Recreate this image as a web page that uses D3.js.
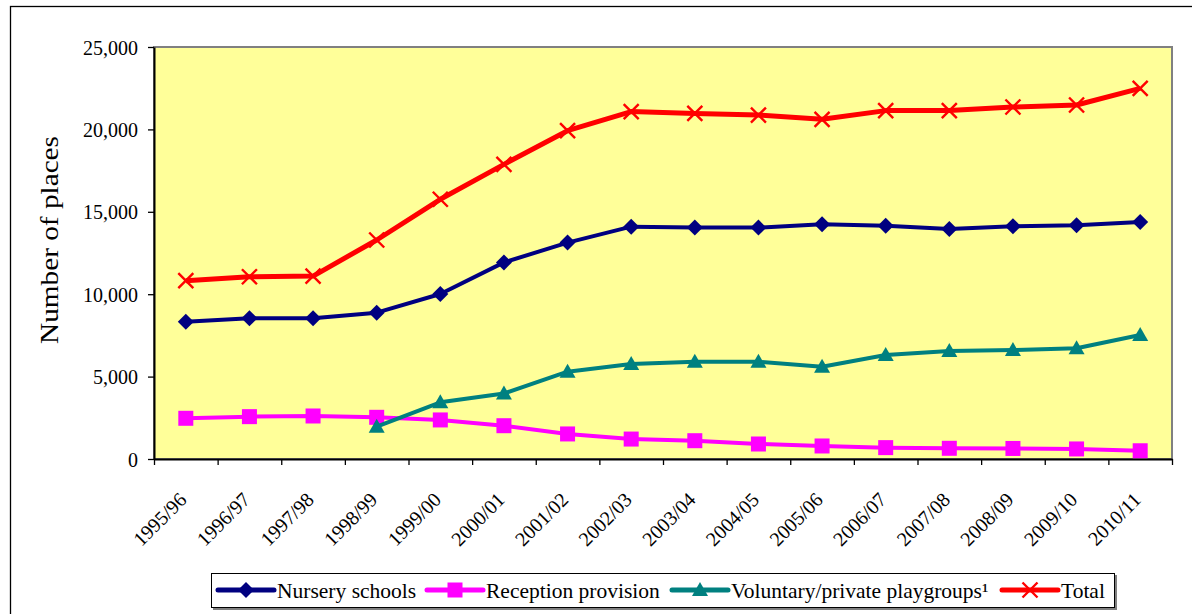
<!DOCTYPE html>
<html><head><meta charset="utf-8">
<script src="https://cdn.jsdelivr.net/npm/d3@7"></script>
<style>
html,body{margin:0;padding:0;background:#fff;}
svg{display:block;}
</style></head>
<body>
<svg id="chart" width="1192" height="614"></svg>
<script>
const categories = ["1995/96","1996/97","1997/98","1998/99","1999/00","2000/01","2001/02","2002/03","2003/04","2004/05","2005/06","2006/07","2007/08","2008/09","2009/10","2010/11"];
const nursery   = [8330, 8540, 8540, 8880, 10010, 11930, 13130, 14100, 14040, 14040, 14240, 14160, 13960, 14120, 14180, 14380];
const reception = [2470, 2570, 2610, 2530, 2370, 2020, 1520, 1210, 1110, 910, 790, 690, 650, 640, 610, 500];
const voluntary = [null, null, null, 1960, 3440, 3980, 5300, 5760, 5900, 5900, 5600, 6310, 6550, 6610, 6720, 7520];
const total     = [10820, 11060, 11100, 13290, 15760, 17880, 19920, 21080, 20970, 20870, 20610, 21140, 21140, 21360, 21480, 22490];
const yTicks = [0, 5000, 10000, 15000, 20000, 25000];
const seriesNames = ["Nursery schools", "Reception provision", "Voluntary/private playgroups\u00B9", "Total"];

const FONT = "'Liberation Serif'";
const series = [
  {name: seriesNames[0], values: nursery,   color: "#000080", width: 4, marker: "diamond"},
  {name: seriesNames[1], values: reception, color: "#FF00FF", width: 4, marker: "square"},
  {name: seriesNames[2], values: voluntary, color: "#008080", width: 4, marker: "triangle"},
  {name: seriesNames[3], values: total,     color: "#FF0000", width: 5, marker: "x"}
];

const svg = d3.select("#chart");
const L = 154, R = 1172, T = 47, B = 459;

// outer chart border
svg.append("rect").attr("x", 10.5).attr("y", 6.5).attr("width", 1200).attr("height", 620)
  .attr("fill", "#fff").attr("stroke", "#000").attr("stroke-width", 1.3);

const x = d3.scaleBand().domain(categories).range([L, R]).padding(0);
const xEdge = d3.scaleLinear().domain([0, categories.length]).range([L, R]);
const y = d3.scaleLinear().domain([0, 25000]).range([B, T]);
const cx = c => x(c) + x.bandwidth() / 2;

// plot area
svg.append("rect").attr("x", L).attr("y", T).attr("width", R - L).attr("height", B - T)
  .attr("fill", "#FFFF99").attr("stroke", "#808080").attr("stroke-width", 2);

// y axis
const yAxis = svg.append("g").attr("transform", `translate(${L},0)`)
  .call(d3.axisLeft(y).tickValues(yTicks).tickSize(6).tickSizeOuter(0)
    .tickFormat(d => d3.format(",")(d)));
yAxis.attr("font-family", null).attr("font-size", null);
yAxis.select(".domain").attr("stroke", "#000").attr("stroke-width", 2);
yAxis.selectAll(".tick line").attr("stroke", "#000").attr("stroke-width", 1.3);
yAxis.selectAll(".tick text").style("font-family", FONT).style("font-size", "20px")
  .attr("fill", "#000").attr("x", -16).attr("dy", "0.35em");

// x axis (ticks at band edges)
const xAxis = svg.append("g").attr("transform", `translate(0,${B})`)
  .call(d3.axisBottom(xEdge).tickValues(d3.range(categories.length + 1)).tickSize(6).tickSizeOuter(0).tickFormat(""));
xAxis.select(".domain").attr("stroke", "#000").attr("stroke-width", 2);
xAxis.selectAll(".tick line").attr("stroke", "#000").attr("stroke-width", 1.3);

svg.append("g").selectAll("text").data(categories).join("text")
  .attr("transform", d => `translate(${cx(d) + 2},${B + 42}) rotate(-45)`)
  .attr("text-anchor", "end")
  .style("font-family", FONT)
  .style("font-size", "20px")
  .attr("fill", "#000")
  .text(d => d);

// y title
svg.append("text").attr("transform", `translate(58,${(T + B) / 2 - 13}) rotate(-90)`)
  .attr("text-anchor", "middle").style("font-family", FONT).style("font-size", "25px").attr("fill", "#000")
  .attr("textLength", 208).attr("lengthAdjust", "spacingAndGlyphs")
  .text("Number of places");

// marker drawing
function drawMarker(g, type, color, px, py) {
  if (type === "diamond") {
    g.append("path").attr("d", `M${px},${py - 8}L${px + 8},${py}L${px},${py + 8}L${px - 8},${py}Z`)
      .attr("fill", color);
  } else if (type === "square") {
    g.append("rect").attr("x", px - 7.5).attr("y", py - 7.5).attr("width", 15).attr("height", 15)
      .attr("fill", color);
  } else if (type === "triangle") {
    g.append("path").attr("d", `M${px},${py - 8}L${px + 8},${py + 6}L${px - 8},${py + 6}Z`)
      .attr("fill", color);
  } else if (type === "x") {
    g.append("path").attr("d", `M${px - 7.5},${py - 7.5}L${px + 7.5},${py + 7.5}M${px + 7.5},${py - 7.5}L${px - 7.5},${py + 7.5}`)
      .attr("stroke", color).attr("stroke-width", 2.4).attr("fill", "none");
  }
}

const line = d3.line()
  .defined(d => d.v !== null)
  .x(d => cx(d.c))
  .y(d => y(d.v));

series.forEach(s => {
  const pts = categories.map((c, i) => ({c, v: s.values[i]}));
  const g = svg.append("g");
  g.append("path").datum(pts).attr("d", line)
    .attr("fill", "none").attr("stroke", s.color).attr("stroke-width", s.width)
    .attr("stroke-linejoin", "round");
  pts.filter(p => p.v !== null).forEach(p => drawMarker(g, s.marker, s.color, cx(p.c), y(p.v)));
});

// legend
const lg = svg.append("g");
lg.append("rect").attr("x", 213).attr("y", 575).attr("width", 904).attr("height", 35).attr("fill", "#808080");
lg.append("rect").attr("x", 211.5).attr("y", 573.5).attr("width", 903).attr("height", 34)
  .attr("fill", "#fff").attr("stroke", "#000").attr("stroke-width", 1);
const legendX = [218, 427, 672, 1002];
series.forEach((s, i) => {
  const x0 = legendX[i], ly = 590;
  lg.append("line").attr("x1", x0).attr("x2", x0 + 56).attr("y1", ly).attr("y2", ly)
    .attr("stroke", s.color).attr("stroke-width", 5).attr("stroke-linecap", "round");
  drawMarker(lg, s.marker, s.color, x0 + 28, ly);
  lg.append("text").attr("x", x0 + 59).attr("y", ly + 8).style("font-family", FONT)
    .style("font-size", "21.5px").attr("fill", "#000").text(s.name);
});
</script>
</body></html>
